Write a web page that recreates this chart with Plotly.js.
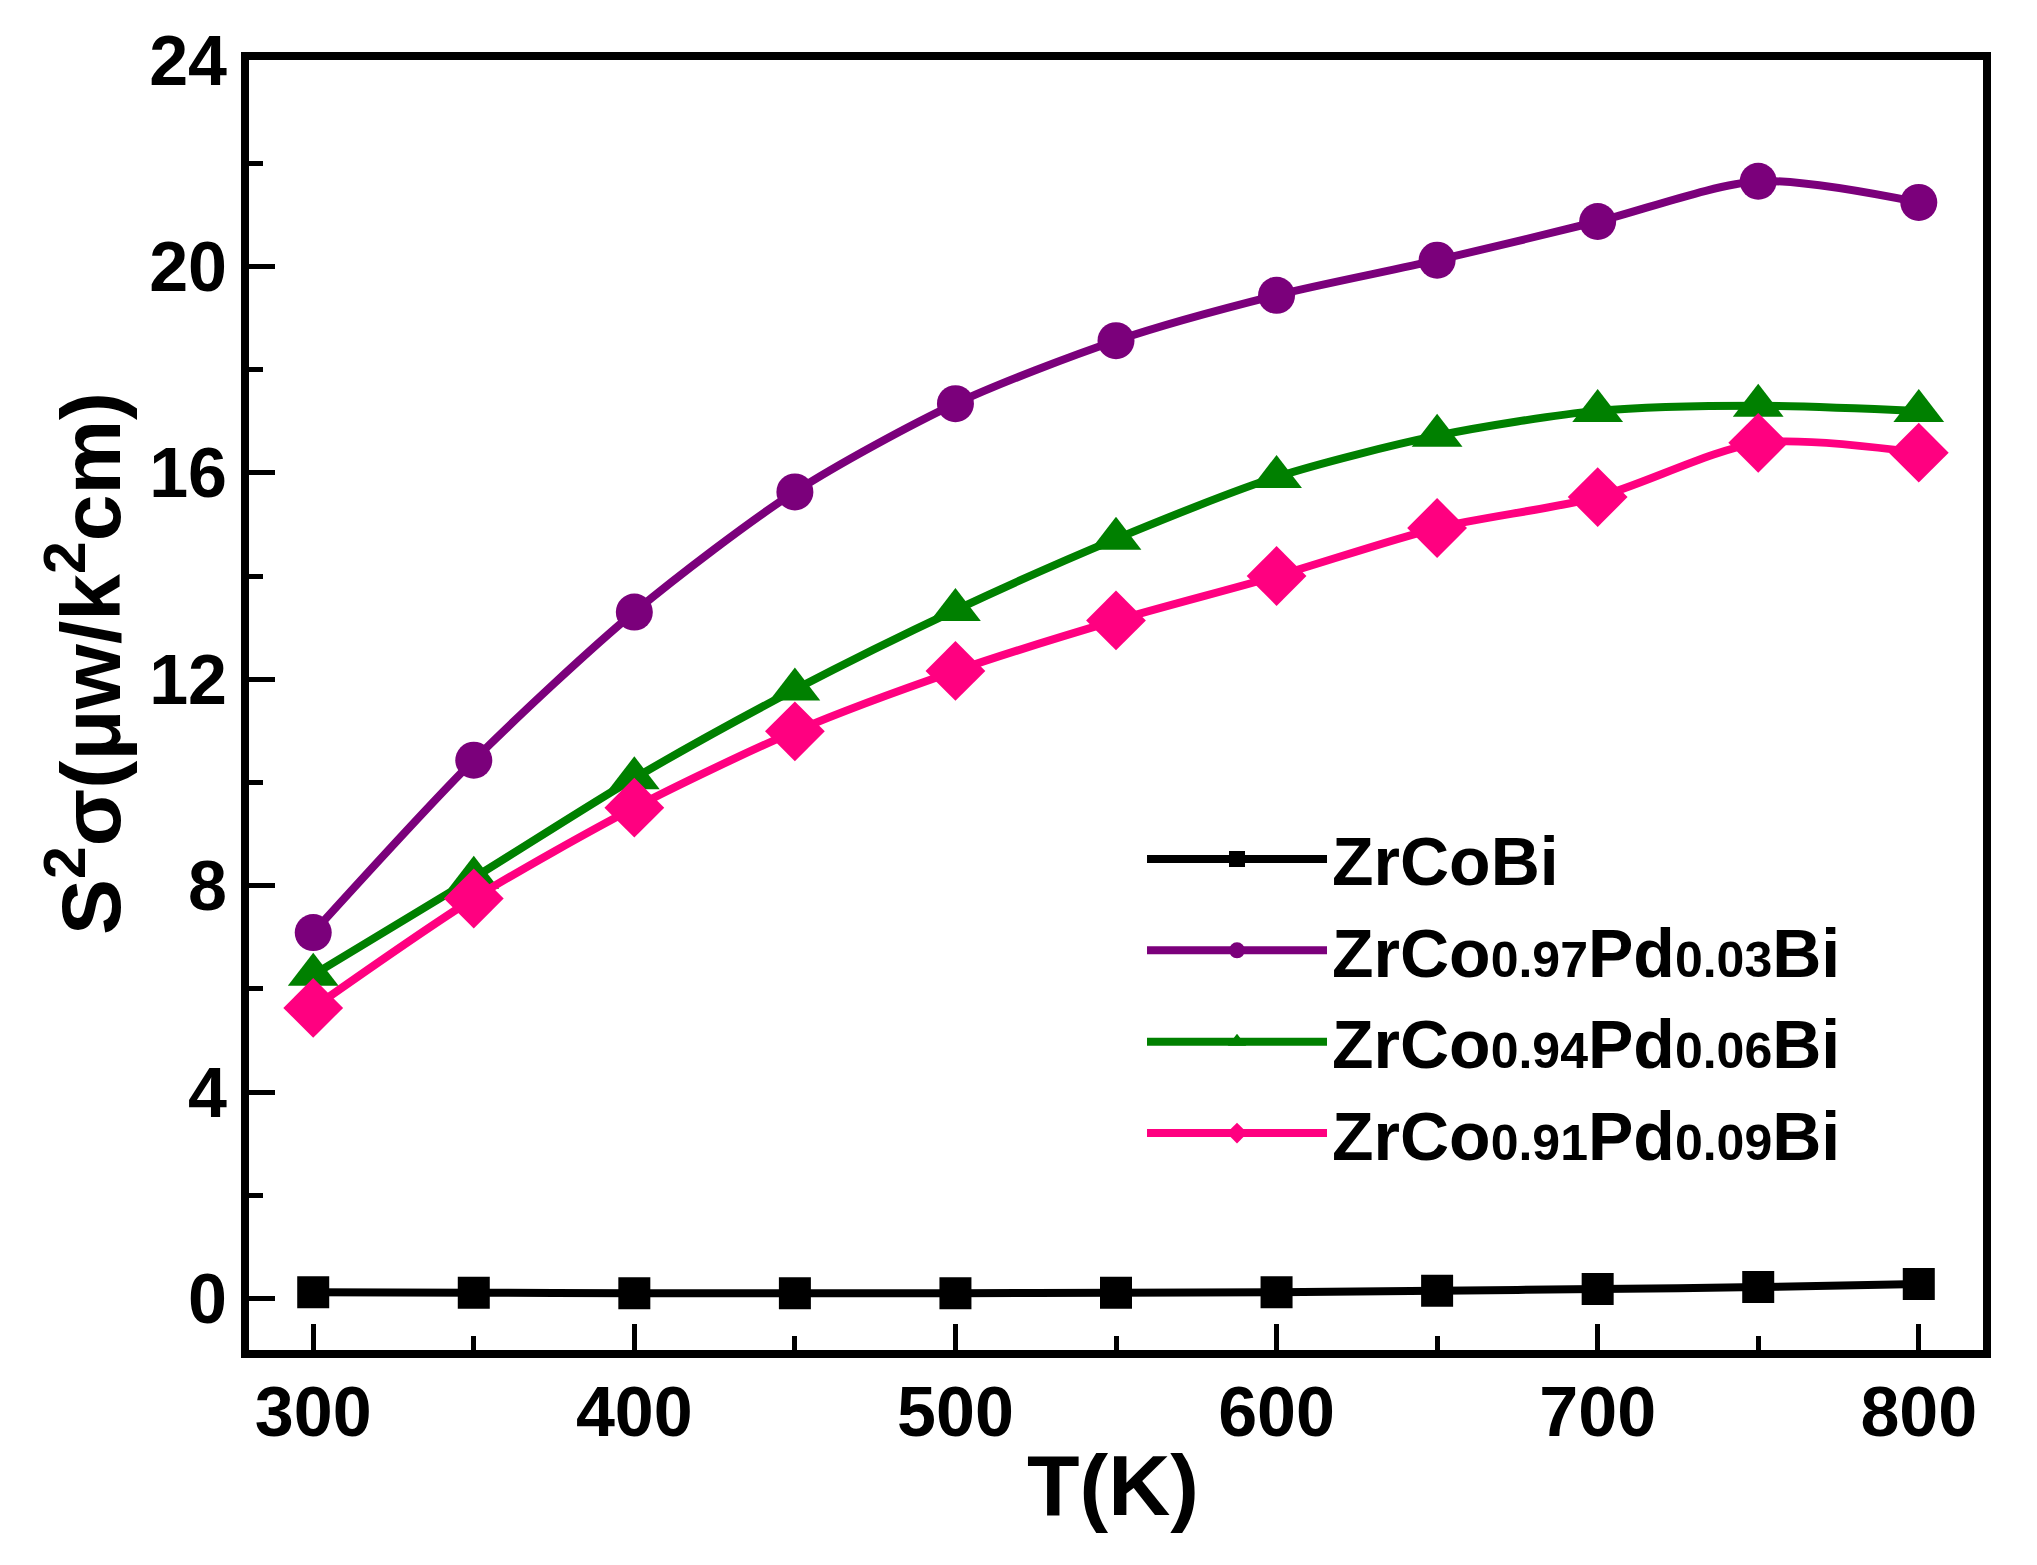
<!DOCTYPE html>
<html>
<head>
<meta charset="utf-8">
<script src="https://cdn.plot.ly/plotly-3.0.1.min.js"></script>
<style>
  html, body { margin: 0; padding: 0; background: #ffffff; }
  #chart { width: 2037px; height: 1565px; }
</style>
</head>
<body>
<div id="chart"></div>
<script>
// Power factor vs temperature for Pd-doped ZrCoBi.
const temperature = [300, 350, 400, 450, 500, 550, 600, 650, 700, 750, 800];

const zrCoBi = [0.12, 0.11, 0.1, 0.1, 0.1, 0.11, 0.12, 0.15, 0.18, 0.22, 0.28];
const pd003 = [7.09, 10.43, 13.3, 15.63, 17.34, 18.56, 19.44, 20.12, 20.87, 21.65, 21.24];
const pd006 = [6.27, 8.15, 10.08, 11.8, 13.34, 14.72, 15.92, 16.72, 17.2, 17.3, 17.2];
const pd009 = [5.63, 7.75, 9.51, 10.99, 12.16, 13.14, 14.0, 14.93, 15.53, 16.58, 16.39];

const sub = (s) => '<span style="font-size:50px">' + s + "</span>";
const seriesNames = [
  "ZrCoBi",
  "ZrCo" + sub("0.97") + "Pd" + sub("0.03") + "Bi",
  "ZrCo" + sub("0.94") + "Pd" + sub("0.06") + "Bi",
  "ZrCo" + sub("0.91") + "Pd" + sub("0.09") + "Bi",
];
const seriesValues = [zrCoBi, pd003, pd006, pd009];
const seriesColors = ["#000000", "#7b007b", "#008000", "#ff0080"];
const seriesSymbols = ["square", "circle", "triangle-up", "diamond"];
const seriesSizes = [32, 37, 44, 46];

const FONT = "'Liberation Sans', Arial, sans-serif";

const data = seriesNames.map((name, i) => ({
  type: "scatter",
  mode: "lines+markers",
  name: name,
  x: temperature,
  y: seriesValues[i],
  line: { color: seriesColors[i], width: 8, shape: "spline", smoothing: 0.8 },
  marker: { color: seriesColors[i], symbol: seriesSymbols[i], size: seriesSizes[i] },
}));

const axisBase = {
  showline: true,
  linecolor: "#000000",
  linewidth: 8,
  mirror: true,
  showgrid: false,
  zeroline: false,
  ticks: "inside",
  ticklen: 26,
  tickwidth: 5,
  tickcolor: "#000000",
  tickfont: { family: FONT, size: 70, color: "#000000", weight: "bold" },
};

const layout = {
  width: 2037,
  height: 1565,
  paper_bgcolor: "#ffffff",
  plot_bgcolor: "#ffffff",
  margin: { l: 249, r: 54, t: 60, b: 215 },
  showlegend: true,
  legend: {
    x: 0.515,
    xanchor: "left",
    y: 0.42,
    yanchor: "top",
    bgcolor: "rgba(0,0,0,0)",
    itemwidth: 180,
    font: { family: FONT, size: 68, color: "#000000", weight: "bold" },
  },
  xaxis: {
    ...axisBase,
    range: [280, 820],
    tickmode: "array",
    tickvals: [300, 400, 500, 600, 700, 800],
    ticklabelstandoff: -6,
    minor: { ticks: "inside", ticklen: 14, tickwidth: 5, tickcolor: "#000000", tickvals: [350, 450, 550, 650, 750] },
  },
  yaxis: {
    ...axisBase,
    range: [-1, 24],
    tickmode: "array",
    tickvals: [0, 4, 8, 12, 16, 20, 24],
    minor: { ticks: "inside", ticklen: 14, tickwidth: 5, tickcolor: "#000000", tickvals: [2, 6, 10, 14, 18, 22] },
  },
  annotations: [
    {
      text: "T(K)",
      xref: "paper",
      yref: "paper",
      x: 0.498,
      y: -0.066,
      xanchor: "center",
      yanchor: "top",
      showarrow: false,
      font: { family: FONT, size: 86, color: "#000000", weight: "bold" },
    },
    {
      text: "S<sup>2</sup>σ(μw/k<sup>2</sup>cm)",
      xref: "paper",
      yref: "paper",
      x: -0.095,
      y: 0.532,
      xanchor: "center",
      yanchor: "middle",
      textangle: -90,
      showarrow: false,
      font: { family: FONT, size: 84, color: "#000000", weight: "bold" },
    },
  ],
};

Plotly.newPlot("chart", data, layout, { displayModeBar: false, staticPlot: true });
</script>
</body>
</html>
